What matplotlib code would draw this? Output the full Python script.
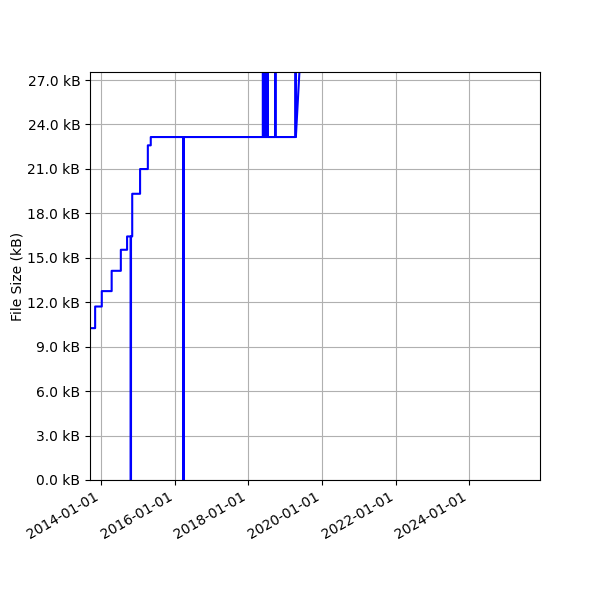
import datetime as dt
import numpy as np
import matplotlib
matplotlib.use('Agg')
import matplotlib.pyplot as plt
import matplotlib.dates as mdates
from matplotlib.ticker import MultipleLocator, FuncFormatter


###===== DATA =====####
# commit dates and file sizes in bytes
commit_dates = [
    '2013-09-13', '2013-11-03', '2014-01-08', '2014-04-16', '2014-07-16',
    '2014-09-16', '2014-10-21', '2014-10-25', '2014-11-06', '2015-01-23',
    '2015-04-10', '2015-05-09', '2016-03-27', '2016-03-31',
    '2018-05-25', '2018-05-29', '2018-06-09', '2018-06-13', '2018-06-24',
    '2018-06-28', '2018-07-09', '2018-07-13', '2018-09-25', '2018-09-29',
    '2019-04-13', '2019-04-18', '2019-07-22',
]
commit_sizes = [
    10250, 11710, 12750, 14120, 15540,
    16440, 0, 16440, 19320, 20990,
    22590, 23150, 0, 23150,
    41000, 23150, 41000, 23150, 41000,
    23150, 41000, 23150, 41000, 23150,
    41000, 23150, 35000,
]

x_limits = ('2013-09-13', '2025-12-05')
y_max = 27540


#=== Build the step line (last commit joined directly) ===#
dates = [dt.datetime.fromisoformat(d) for d in commit_dates]
xs, ys = [dates[0]], [commit_sizes[0]]
for d, s in zip(dates[1:-1], commit_sizes[1:-1]):
    xs += [d, d]
    ys += [ys[-1], s]
xs.append(dates[-1])
ys.append(commit_sizes[-1])


#=== Plot ===#
fig, ax = plt.subplots(figsize=(6, 6), dpi=100)
ax.plot(xs, ys, color='blue', linewidth=1.5)

ax.set_xlim(dt.datetime.fromisoformat(x_limits[0]), dt.datetime.fromisoformat(x_limits[1]))
ax.set_ylim(0, y_max)

ax.yaxis.set_major_locator(MultipleLocator(3000))
ax.yaxis.set_major_formatter(FuncFormatter(lambda v, p: '%.1f kB' % (v / 1000)))
ax.xaxis.set_major_locator(mdates.YearLocator(2))
ax.xaxis.set_major_formatter(mdates.DateFormatter('%Y-%m-%d'))

ax.set_ylabel('File Size (kB)', labelpad=2)
ax.grid(True)

fig.autofmt_xdate()
fig.subplots_adjust(left=0.15, right=0.9, top=0.88, bottom=0.2)
fig.savefig('out.png', dpi=100)
